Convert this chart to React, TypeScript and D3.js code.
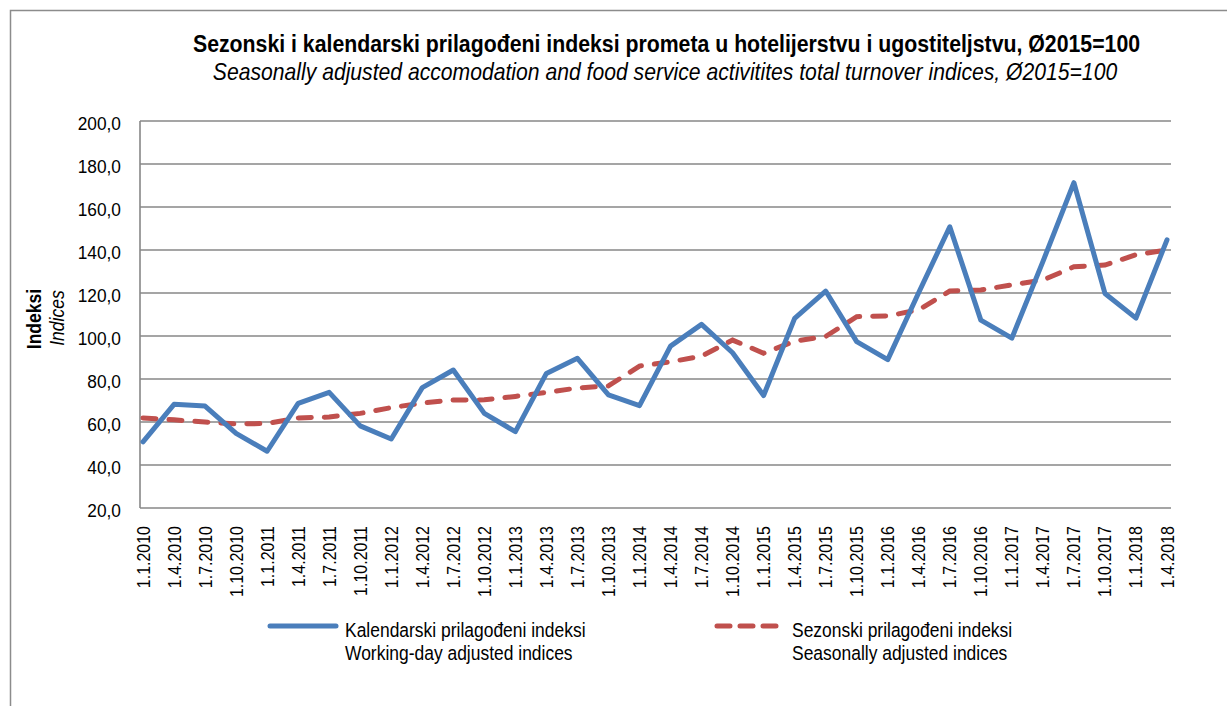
import React, { useEffect, useRef } from 'react';
import * as d3 from 'd3';

const dates = [
  '1.1.2010', '1.4.2010', '1.7.2010', '1.10.2010',
  '1.1.2011', '1.4.2011', '1.7.2011', '1.10.2011',
  '1.1.2012', '1.4.2012', '1.7.2012', '1.10.2012',
  '1.1.2013', '1.4.2013', '1.7.2013', '1.10.2013',
  '1.1.2014', '1.4.2014', '1.7.2014', '1.10.2014',
  '1.1.2015', '1.4.2015', '1.7.2015', '1.10.2015',
  '1.1.2016', '1.4.2016', '1.7.2016', '1.10.2016',
  '1.1.2017', '1.4.2017', '1.7.2017', '1.10.2017',
  '1.1.2018', '1.4.2018',
];

// kalendarski prilagođeni (working-day adjusted)
const workingDay = [
  50.8, 68.2, 67.4, 54.7, 46.4, 68.7, 73.8, 58.2, 52.1, 76.0, 84.2, 64.0,
  55.5, 82.6, 89.6, 72.6, 67.6, 95.3, 105.4, 92.2, 72.3, 108.2, 120.9, 97.4,
  89.0, 120.2, 150.8, 107.4, 99.0, 134.6, 171.3, 119.8, 108.3, 144.7,
];

// sezonski prilagođeni (seasonally adjusted)
const seasonal = [
  61.9, 61.0, 60.0, 59.1, 59.3, 61.9, 62.3, 64.0, 66.7, 68.8, 70.2, 70.3,
  71.9, 73.8, 75.8, 76.8, 86.0, 88.0, 90.6, 98.1, 92.0, 97.6, 99.8, 109.0,
  109.3, 112.2, 120.9, 121.4, 123.8, 126.0, 132.2, 133.0, 137.8, 140.0,
];

const yTicks = [20, 40, 60, 80, 100, 120, 140, 160, 180, 200];

const FONT = '"Liberation Sans", Arial, sans-serif';

function Chart() {
  const ref = useRef<SVGSVGElement>(null);

  useEffect(() => {
    const svg = d3.select(ref.current);
    svg.selectAll('*').remove();

    const width = 1227, height = 706;
    const left = 140, right = 1171, top = 121, bottom = 508;

    svg.attr('width', width).attr('height', height).style('font-family', FONT);

    svg.append('rect').attr('width', width).attr('height', height).attr('fill', '#fff');
    // outer frame
    svg.append('rect')
      .attr('x', 10.5).attr('y', 10.5)
      .attr('width', 1300).attr('height', 800)
      .attr('fill', 'none').attr('stroke', '#8c8c8c').attr('stroke-width', 1.5);

    const x = d3.scalePoint<string>().domain(dates).range([left + 3, right - 4]);
    const y = d3.scaleLinear().domain([20, 200]).range([bottom, top]);

    // gridlines
    svg.append('g')
      .selectAll('line')
      .data(yTicks)
      .enter()
      .append('line')
      .attr('x1', left).attr('x2', right)
      .attr('y1', (d) => y(d)).attr('y2', (d) => y(d))
      .attr('stroke', '#878787').attr('stroke-width', 1.6);

    svg.append('line')
      .attr('x1', left).attr('x2', left)
      .attr('y1', top).attr('y2', bottom)
      .attr('stroke', '#878787').attr('stroke-width', 1.6);

    // y tick labels (condensed like the original narrow font)
    svg.append('g')
      .selectAll('text')
      .data(yTicks)
      .enter()
      .append('text')
      .attr('transform', (d) => `translate(${left - 19},${y(d) + 8.5}) scale(0.93,1)`)
      .attr('text-anchor', 'end')
      .attr('font-size', 18.6)
      .text((d) => d.toFixed(1).replace('.', ','));

    // x tick labels
    svg.append('g')
      .selectAll('text')
      .data(dates)
      .enter()
      .append('text')
      .attr('transform', (d) => `translate(${x(d)! + 6.5},${bottom + 18}) rotate(-90) scale(0.86,1)`)
      .attr('text-anchor', 'end')
      .attr('font-size', 18.6)
      .text((d) => d);

    const line = d3.line<number>()
      .x((_, i) => x(dates[i])!)
      .y((d) => y(d));

    svg.append('path')
      .datum(seasonal)
      .attr('d', line)
      .attr('fill', 'none')
      .attr('stroke', '#c0504d')
      .attr('stroke-width', 5)
      .attr('stroke-linecap', 'round')
      .attr('stroke-dasharray', '13 13');

    svg.append('path')
      .datum(workingDay)
      .attr('d', line)
      .attr('fill', 'none')
      .attr('stroke', '#4a7ebb')
      .attr('stroke-width', 5)
      .attr('stroke-linejoin', 'round')
      .attr('stroke-linecap', 'round');

    // titles
    svg.append('text')
      .attr('transform', 'translate(666.5,52) scale(0.905,1)')
      .attr('text-anchor', 'middle')
      .attr('font-size', 23.5).attr('font-weight', 'bold')
      .text('Sezonski i kalendarski prilagođeni indeksi prometa u hotelijerstvu i ugostiteljstvu, Ø2015=100');

    svg.append('text')
      .attr('transform', 'translate(665,80) scale(0.92,1)')
      .attr('text-anchor', 'middle')
      .attr('font-size', 23).attr('font-style', 'italic')
      .text('Seasonally adjusted accomodation and food service activitites total turnover indices, Ø2015=100');

    // y axis title
    svg.append('text')
      .attr('transform', 'translate(41,319) rotate(-90) scale(0.9,1)')
      .attr('text-anchor', 'middle')
      .attr('font-size', 19.5).attr('font-weight', 'bold')
      .text('Indeksi');
    svg.append('text')
      .attr('transform', 'translate(64,318) rotate(-90) scale(0.9,1)')
      .attr('text-anchor', 'middle')
      .attr('font-size', 19.5).attr('font-style', 'italic')
      .text('Indices');

    // legend
    const legend = [
      { x: 267, color: '#4a7ebb', dash: null, lines: ['Kalendarski prilagođeni indeksi', 'Working-day adjusted indices'] },
      { x: 714, color: '#c0504d', dash: '13 10', lines: ['Sezonski prilagođeni indeksi', 'Seasonally adjusted indices'] },
    ];
    legend.forEach((l) => {
      const g = svg.append('g');
      g.append('line')
        .attr('x1', l.x + 3).attr('x2', l.x + 69)
        .attr('y1', 626).attr('y2', 626)
        .attr('stroke', l.color).attr('stroke-width', 5)
        .attr('stroke-linecap', 'round')
        .attr('stroke-dasharray', l.dash);
      l.lines.forEach((t, i) => {
        g.append('text')
          .attr('transform', `translate(${l.x + 78},${637 + i * 22.5}) scale(0.895,1)`)
          .attr('font-size', 19.5)
          .text(t);
      });
    });
  }, []);

  return <svg ref={ref}></svg>;
}

export default function App() {
  return (
    <div style={{ position: 'absolute', left: 0, top: 0 }}>
      <Chart />
    </div>
  );
}
